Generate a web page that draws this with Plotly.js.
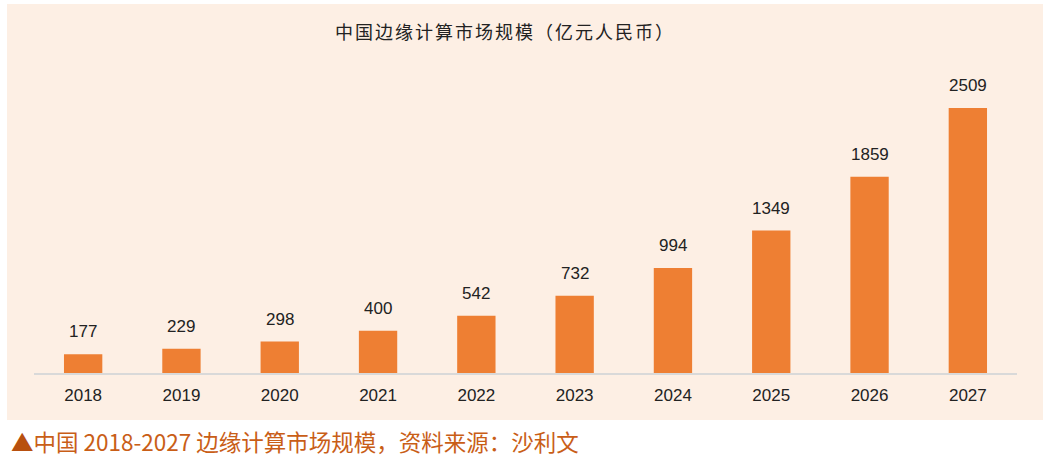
<!DOCTYPE html>
<html>
<head>
<meta charset="utf-8">
<script src="https://cdn.plot.ly/plotly-3.0.1.min.js"></script>
<style>
html,body{margin:0;padding:0;background:#fff;}
#chart{width:1051px;height:457px;}
#chart .gtitle{letter-spacing:2px;}
</style>
</head>
<body>
<div id="chart"></div>
<script>
const years = ['2018','2019','2020','2021','2022','2023','2024','2025','2026','2027'];
const marketSize = [177, 229, 298, 400, 542, 732, 994, 1349, 1859, 2509];
const chartTitle = '中国边缘计算市场规模（亿元人民币）';
const captionMark = '▲';
const captionText = '中国 2018-2027 边缘计算市场规模，资料来源：沙利文';

const W = 1051, H = 457;
const L = 34, R = 34, T = 60, B = 84;
const pw = W - L - R, ph = H - T - B;
const px = v => (v - L) / pw;
const py = v => (H - B - v) / ph;

const trace = {
  type: 'bar',
  x: years,
  y: marketSize,
  marker: {color: '#EE7F33'},
  width: 0.39,
  hoverinfo: 'x+y'
};

const labelAnns = years.map((yr, i) => ({
  x: i, y: marketSize[i], xref: 'x', yref: 'y',
  text: String(marketSize[i]), showarrow: false,
  yanchor: 'bottom', yshift: 11,
  font: {family: 'Liberation Sans, Arial, sans-serif', size: 17, color: '#222'}
}));

const layout = {
  width: W, height: H,
  margin: {l: L, r: R, t: T, b: B},
  paper_bgcolor: '#ffffff',
  plot_bgcolor: 'rgba(0,0,0,0)',
  showlegend: false,
  title: {
    text: chartTitle,
    x: 505 / W, xref: 'container', xanchor: 'center',
    y: 1 - 33 / H, yref: 'container', yanchor: 'middle',
    font: {family: 'Noto Sans CJK SC, sans-serif', size: 18, color: '#222'}
  },
  xaxis: {
    type: 'category',
    range: [-0.5, years.length - 0.5],
    showgrid: false,
    showline: true, linecolor: '#D9D9D9', linewidth: 1.5,
    ticks: '', ticklen: 0, ticklabelstandoff: 6,
    tickfont: {family: 'Liberation Sans, Arial, sans-serif', size: 17, color: '#222'},
    fixedrange: true
  },
  yaxis: {
    range: [0, 2509 * ph / 265],
    visible: false, showgrid: false, zeroline: false,
    fixedrange: true
  },
  shapes: [{
    type: 'rect', xref: 'paper', yref: 'paper', layer: 'below',
    x0: px(7), x1: px(1043), y0: py(420), y1: py(4),
    fillcolor: '#FDEFE4', line: {width: 0}
  }],
  annotations: labelAnns.concat([{
    xref: 'paper', yref: 'paper',
    x: px(9), y: py(441), xanchor: 'left', yanchor: 'middle',
    text: '<span style="color:#B8500F">' + captionMark + '</span>' + captionText,
    showarrow: false,
    font: {family: 'Noto Sans CJK SC, sans-serif', size: 22.5, color: '#C95E17'}
  }])
};

Plotly.newPlot('chart', [trace], layout, {displayModeBar: false, staticPlot: true});
</script>
</body>
</html>
